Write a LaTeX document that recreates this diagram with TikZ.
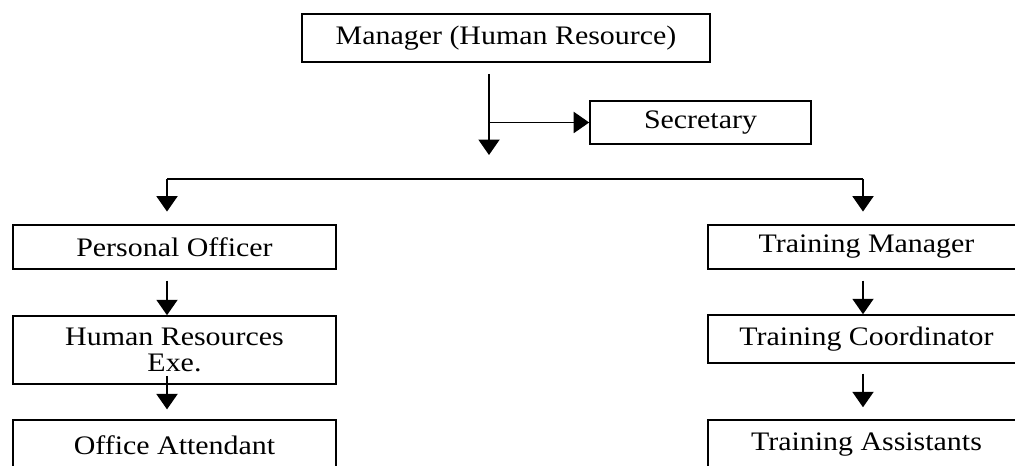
\documentclass[tikz,border=0pt]{standalone}
\usepackage{fontspec}
\setmainfont{Liberation Serif}[FakeStretch=1.12]
\usetikzlibrary{arrows.meta}
\tikzset{
  post/.style={draw, line width=1.1pt, inner sep=0pt, align=center,
    font=\fontsize{19pt}{18pt}\selectfont},
  flow/.style={line width=1.2pt, -{Triangle[width=15pt, length=11pt]}}
}
\begin{document}
\begin{tikzpicture}[x=0.025cm, y=-0.025cm]
    \useasboundingbox[fill=white] (0, 0) rectangle (1015, 466) ;
    \clip (0, 0) rectangle (1015, 466) ;
    % boxes
    \node[post, minimum width=10.2cm, minimum height=1.2cm] (mgr) at (506, 38) {Manager (Human Resource)} ;
    \node[post, minimum width=5.525cm, minimum height=1.075cm] (sec) at (700.5, 122.5) {Secretary} ;
    \node[post, minimum width=8.075cm, minimum height=1.1cm] (po) at (174.5, 247) {Personal Officer} ;
    \node[post, minimum width=8.075cm, minimum height=1.7cm] (hr) at (174.5, 350) {Human Resources\\Exe.} ;
    \node[post, minimum width=8.075cm, minimum height=1.25cm] (oa) at (174.5, 445) {Office Attendant} ;
    \node[post, minimum width=7.925cm, minimum height=1.1cm] (tm) at (866.5, 247) {Training Manager} ;
    \node[post, minimum width=7.925cm, minimum height=1.2cm] (tc) at (866.5, 339) {Training Coordinator} ;
    \node[post, minimum width=7.925cm, minimum height=1.25cm] (ta) at (866.5, 445) {Training Assistants} ;
    % stem and bus
    \coordinate (stem) at (489, 74) ;
    \coordinate (stemend) at (489, 155) ;
    \coordinate (busl) at (167, 179) ;
    \coordinate (busr) at (863, 179) ;
    \draw[flow] (stem) -- (stemend) ;
    \draw[flow] (stem |- sec.west) -- (sec.west) ;
    \draw[line width=1.2pt] (busl) -- (busr) ;
    \draw[flow, shorten >=9pt] (busl) -- (busl |- po.north) ;
    \draw[flow, shorten >=9pt] (busr) -- (busr |- tm.north) ;
    % columns
    \draw[flow, shorten <=7.8pt] (busl |- po.south) -- (busl |- hr.north) ;
    \draw[flow, shorten <=-6.4pt, shorten >=7pt] (busl |- hr.south) -- (busl |- oa.north) ;
    \draw[flow, shorten <=7.8pt] (busr |- tm.south) -- (busr |- tc.north) ;
    \draw[flow, shorten <=7pt, shorten >=8.5pt] (busr |- tc.south) -- (busr |- ta.north) ;
\end{tikzpicture}
\end{document}
